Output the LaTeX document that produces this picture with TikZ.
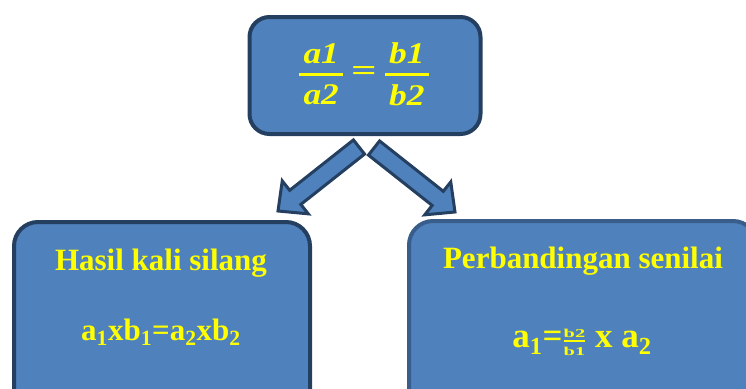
\documentclass[tikz,border=0pt]{standalone}
\usepackage{amsmath}
\usepackage{fontspec}
\setmainfont{Liberation Serif}
\usetikzlibrary{calc}
\definecolor{boxfill}{HTML}{4F81BD}
\definecolor{boxdark}{HTML}{243F60}
\definecolor{boxmid}{HTML}{3A5E8C}
\definecolor{txt}{HTML}{FFFF00}
\tikzset{
  rbox/.style={draw=boxdark, fill=boxfill, line width=4pt, rounded corners=24pt, inner sep=0pt},
  lbl/.style={text=txt, font=\bfseries\fontsize{31}{36}\selectfont, inner sep=0pt, anchor=base},
  barrow/.style={draw=boxdark, fill=boxfill, line width=3pt, line join=miter}
}
\newcommand\blockarr[2]{%
  \coordinate (B) at ($(#2)!22pt!(#1)$);
  \draw[barrow] ($(#1)!9pt!90:(#2)$) -- ($(B)!9pt!90:(#2)$) -- ($(B)!21pt!90:(#2)$) -- (#2)
    -- ($(B)!21pt!-90:(#2)$) -- ($(B)!9pt!-90:(#2)$) -- ($(#1)!9pt!-90:(#2)$) -- cycle;}
\newcommand\wideglyph[1]{\scalebox{1.18}[1]{#1}}
\newcommand\smallfr[1]{\scalebox{1.7}[1]{\bfseries\fontsize{12}{13}\selectfont #1}}
\begin{document}
\begin{tikzpicture}[x=1pt,y=-1pt]
\useasboundingbox (0,0) rectangle (746,388);
\clip (0,0) rectangle (746,388);
% boxes
\node[rbox, rounded corners=20pt, minimum width=231pt, minimum height=117pt] (top) at (365,75.5) {};
\node[rbox, minimum width=296pt, minimum height=196pt] (left) at (162,320) {};
\node[rbox, draw=boxmid, minimum width=348pt, minimum height=196pt] (right) at (583,319) {};
% arrows
\coordinate (t1) at (359,147);
\coordinate (p1) at (278,211);
\coordinate (t2) at (374,148);
\coordinate (p2) at (455,212);
\blockarr{t1}{p1}
\blockarr{t2}{p2}
% top formula
\node[text=txt, inner sep=0pt, font=\bfseries\itshape\fontsize{30}{34}\selectfont] (f) at (364,74)
  {$\genfrac{}{}{3pt}{0}{\,\text{\wideglyph{\bfseries\itshape a1}}\,}{\text{\wideglyph{\bfseries\itshape a2}}}\;\text{\scalebox{1.5}[1]{\upshape\bfseries =}}\;\genfrac{}{}{3pt}{0}{\,\text{\wideglyph{\bfseries\itshape b1}}\,}{\text{\wideglyph{\bfseries\itshape b2}}}$};
% left box text
\node[lbl] (h) at (161,270) {Hasil kali silang};
\node[lbl] (hf) at (161,340) {a\textsubscript{1}xb\textsubscript{1}=a\textsubscript{2}xb\textsubscript{2}};
% right box text
\node[lbl] (p) at (583,268) {Perbandingan senilai};
\node[lbl, font=\bfseries\fontsize{35}{40}\selectfont] (pf) at (582,347) {a\textsubscript{1}=$\genfrac{}{}{2pt}{}{\text{\smallfr{b2}}}{\text{\smallfr{b1}}}$ x a\textsubscript{2}};
\end{tikzpicture}
\end{document}
